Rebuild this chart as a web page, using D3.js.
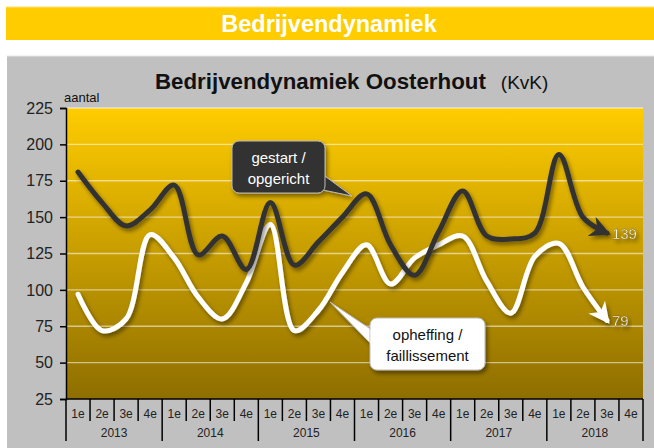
<!DOCTYPE html>
<head>
  <meta charset="utf-8">
  <script src="https://cdnjs.cloudflare.com/ajax/libs/d3/7.8.5/d3.min.js"></script>
  <style>
    body { margin:0; background:#fff; font-family: "Liberation Sans", Arial, sans-serif; }
    svg { display:block; }
  </style>
</head>
<body>
  <script>
    // quarters 2013 1e .. 2018 4e, values until 2018 3e
    var years = ["2013", "2014", "2015", "2016", "2017", "2018"];
    var quarters = ["1e", "2e", "3e", "4e"];
    var yTicks = [25, 50, 75, 100, 125, 150, 175, 200, 225];
    var gestart = [181, 160, 144, 155, 172, 124, 137, 114, 160, 117, 133, 150, 166, 131, 110, 140, 168, 137, 135, 139, 193, 150, 139];
    var opheffing = [97, 72, 80, 138, 122, 95, 80, 105, 145, 72, 86, 112, 131, 104, 122, 131, 137, 106, 84, 123, 132, 102, 79];

    var W = 654, H = 448;
    var margin = {top: 108, right: 11, bottom: 49, left: 66};
    var width = W - margin.left - margin.right;
    var height = H - margin.top - margin.bottom;

    var svg = d3.select("body").append("svg").attr("width", W).attr("height", H);
    var defs = svg.append("defs");

    var grad = defs.append("linearGradient").attr("id", "bg").attr("x1", 0).attr("y1", 0).attr("x2", 0).attr("y2", 1);
    grad.append("stop").attr("offset", "0%").attr("stop-color", "#FFCC00");
    grad.append("stop").attr("offset", "100%").attr("stop-color", "#8E6E00");

    var shadow = defs.append("filter").attr("id", "shadow").attr("x", "-10%").attr("y", "-20%").attr("width", "130%").attr("height", "150%");
    shadow.append("feDropShadow").attr("dx", 2).attr("dy", 3).attr("stdDeviation", 2).attr("flood-color", "#000").attr("flood-opacity", 0.45);

    function marker(id, color) {
      defs.append("marker").attr("id", id)
        .attr("viewBox", "0 0 10 10").attr("refX", 8).attr("refY", 5)
        .attr("markerWidth", 4.2).attr("markerHeight", 4.2)
        .attr("markerUnits", "strokeWidth").attr("orient", "auto")
        .append("path").attr("d", "M0,0 L10,5 L0,10 L3,5 Z").attr("fill", color);
    }
    marker("arrDark", "#333");
    marker("arrWhite", "#fff");

    // top banner
    svg.append("rect").attr("x", 6).attr("y", 7).attr("width", W - 6).attr("height", 33).attr("fill", "#FFCC00");
    svg.append("line").attr("x1", 6).attr("x2", W).attr("y1", 7).attr("y2", 7).attr("stroke", "#FFE27A");
    svg.append("text").attr("x", 329).attr("y", 32).attr("text-anchor", "middle")
      .attr("fill", "#fff").style("font-size", "23.5px").style("font-weight", "bold").text("Bedrijvendynamiek");

    // gray panel
    svg.append("rect").attr("x", 7).attr("y", 56).attr("width", W - 7).attr("height", H - 56).attr("fill", "#C0C0C0");
    svg.append("line").attr("x1", 7).attr("x2", W).attr("y1", 56).attr("y2", 56).attr("stroke", "#e6e6e6");

    var title = svg.append("text").attr("x", 155).attr("y", 89).attr("fill", "#111");
    title.append("tspan").style("font-size", "22.3px").style("font-weight", "bold").text("Bedrijvendynamiek Oosterhout");
    title.append("tspan").attr("dx", 15).style("font-size", "19px").text("(KvK)");

    svg.append("text").attr("x", 64).attr("y", 102).attr("fill", "#111").style("font-size", "13px").text("aantal");

    var g = svg.append("g").attr("transform", "translate(" + margin.left + "," + margin.top + ")");

    var n = years.length * quarters.length;
    var x = d3.scaleLinear().domain([0, n]).range([0, width]);
    var y = d3.scaleLinear().domain([25, 225]).range([height, 0]);

    g.append("rect").attr("width", width).attr("height", height).attr("fill", "url(#bg)");

    g.selectAll(".grid").data(yTicks.slice(1)).enter().append("line")
      .attr("x1", 0).attr("x2", width)
      .attr("y1", function(d){ return y(d); }).attr("y2", function(d){ return y(d); })
      .attr("stroke", "#fff").attr("stroke-opacity", 0.55).attr("stroke-width", 1.3);

    // y axis
    var yAxis = g.append("g").call(d3.axisLeft(y).tickValues(yTicks).tickSize(6).tickPadding(7));
    yAxis.select(".domain").attr("stroke", "#000").attr("stroke-width", 1.5);
    yAxis.selectAll(".tick line").attr("stroke", "#000").attr("stroke-width", 1.5);
    yAxis.selectAll("text").attr("fill", "#222").style("font-size", "16px").style("font-family", "Liberation Sans, Arial, sans-serif");

    // x axis: quarters and years
    var ax = g.append("g").attr("transform", "translate(0," + height + ")");
    ax.append("line").attr("x1", 0).attr("x2", width).attr("stroke", "#000").attr("stroke-width", 1.5);
    ax.selectAll(".qt").data(d3.range(n + 1)).enter().append("line")
      .attr("x1", function(i){ return x(i); }).attr("x2", function(i){ return x(i); })
      .attr("y1", 0).attr("y2", function(i){ return i % 4 === 0 ? 42 : 22; })
      .attr("stroke", "#000").attr("stroke-width", 1.5);
    var qLabels = [];
    years.forEach(function(yr, yi){ quarters.forEach(function(q, qi){ qLabels.push({i: yi * 4 + qi, q: q}); }); });
    ax.selectAll(".ql").data(qLabels).enter().append("text")
      .attr("x", function(d){ return x(d.i + 0.5); }).attr("y", 19).attr("text-anchor", "middle")
      .attr("fill", "#222").style("font-size", "12px").text(function(d){ return d.q; });
    ax.selectAll(".yl").data(years).enter().append("text")
      .attr("x", function(d, i){ return x(i * 4 + 2); }).attr("y", 38).attr("text-anchor", "middle")
      .attr("fill", "#222").style("font-size", "12px").text(function(d){ return d; });

    // lines
    var line = d3.line()
      .x(function(d, i){ return x(i + 0.5); })
      .y(function(d){ return y(d); })
      .curve(d3.curveCatmullRom.alpha(0.5));

    g.append("path").datum(opheffing).attr("d", line)
      .attr("fill", "none").attr("stroke", "#fff").attr("stroke-width", 5)
      .attr("stroke-linecap", "round").attr("marker-end", "url(#arrWhite)").attr("filter", "url(#shadow)");
    g.append("path").datum(gestart).attr("d", line)
      .attr("fill", "none").attr("stroke", "#333").attr("stroke-width", 5)
      .attr("stroke-linecap", "round").attr("marker-end", "url(#arrDark)").attr("filter", "url(#shadow)");

    // end labels
    [gestart, opheffing].forEach(function(s){
      var last = s.length - 1;
      g.append("text").attr("x", x(last + 0.5) + 5).attr("y", y(s[last]) + 6)
        .attr("fill", "#fffdf0").attr("stroke", "#6b5600").attr("stroke-width", 0.3)
        .style("font-size", "15px").attr("filter", "url(#shadow)").text(s[last]);
    });

    // callouts
    function callout(bx, by, bw, bh, tip, base, fill, textFill, lines) {
      var c = svg.append("g").attr("filter", "url(#shadow)");
      c.append("path").attr("d", "M" + base[0][0] + "," + base[0][1] + " L" + tip[0] + "," + tip[1] + " L" + base[1][0] + "," + base[1][1] + " Z")
        .attr("fill", fill).attr("stroke", "#bbb").attr("stroke-width", 1);
      c.append("rect").attr("x", bx).attr("y", by).attr("width", bw).attr("height", bh).attr("rx", 7)
        .attr("fill", fill).attr("stroke", "#bbb").attr("stroke-width", 1);
      c.append("path").attr("d", "M" + base[0][0] + "," + base[0][1] + " L" + base[1][0] + "," + base[1][1])
        .attr("stroke", fill).attr("stroke-width", 3);
      lines.forEach(function(t, i){
        svg.append("text").attr("x", bx + bw / 2).attr("y", by + 22 + i * 21).attr("text-anchor", "middle")
          .attr("fill", textFill).style("font-size", "15px").text(t);
      });
    }
    callout(232, 141, 93, 52, [352, 196], [[318, 171], [318, 189]], "#333", "#fff", ["gestart /", "opgericht"]);
    callout(370, 318, 115, 52, [330, 302], [[372, 330], [372, 345]], "#fff", "#111", ["opheffing /", "faillissement"]);
  </script>
</body>
